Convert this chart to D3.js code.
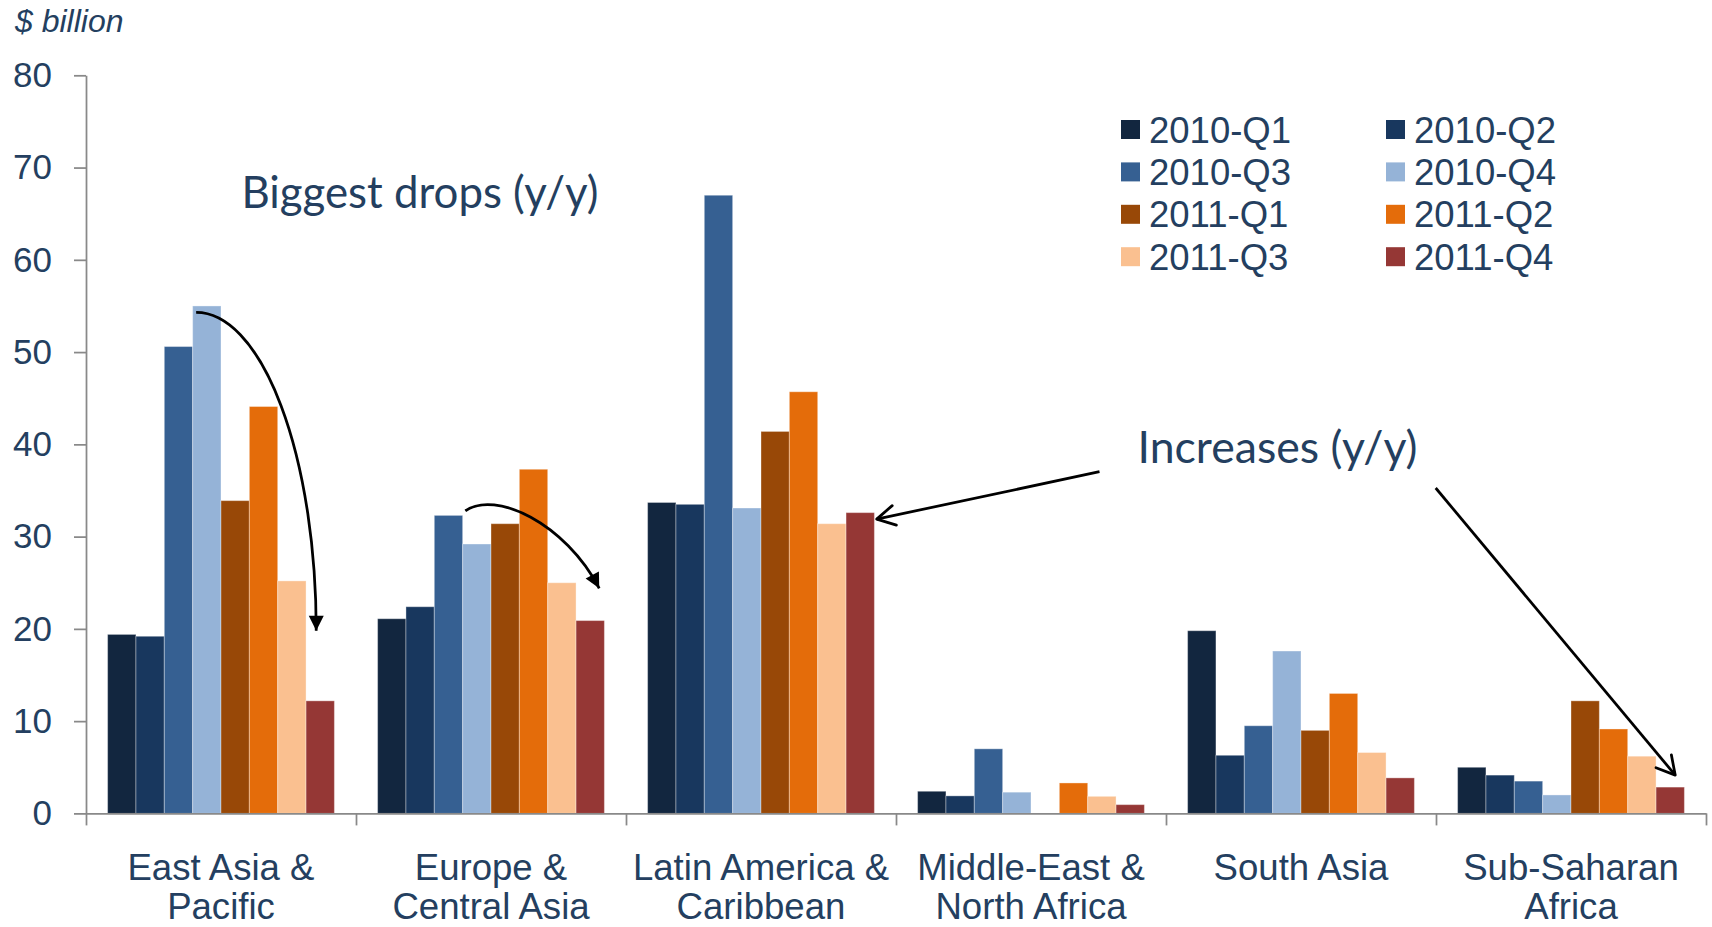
<!DOCTYPE html>
<html>
<head>
<meta charset="utf-8">
<script src="https://cdn.jsdelivr.net/npm/d3@7"></script>
<style>
  html, body { margin: 0; padding: 0; background: #ffffff; }
  svg { display: block; }
</style>
</head>
<body>
<svg id="chart" width="1712" height="927"></svg>
<script>
// ---------------- DATA ----------------
const regions = ["East Asia & Pacific", "Europe & Central Asia", "Latin America & Caribbean",
                 "Middle-East & North Africa", "South Asia", "Sub-Saharan Africa"];
const regionLabelLines = [["East Asia &", "Pacific"], ["Europe &", "Central Asia"],
                          ["Latin America &", "Caribbean"], ["Middle-East &", "North Africa"],
                          ["South Asia"], ["Sub-Saharan", "Africa"]];
const seriesNames = ["2010-Q1", "2010-Q2", "2010-Q3", "2010-Q4", "2011-Q1", "2011-Q2", "2011-Q3", "2011-Q4"];
const seriesColors = ["#12263F", "#18375E", "#366092", "#95B3D7", "#984807", "#E46C0A", "#FAC090", "#953735"];

// values per series, in region order
const s2010Q1 = [19.4, 21.1, 33.7, 2.4, 19.8, 5.0];
const s2010Q2 = [19.2, 22.4, 33.5, 1.9, 6.3, 4.15];
const s2010Q3 = [50.6, 32.3, 67.0, 7.0, 9.5, 3.5];
const s2010Q4 = [55.0, 29.2, 33.1, 2.3, 17.6, 2.0];
const s2011Q1 = [33.9, 31.4, 41.4, 0, 9.0, 12.2];
const s2011Q2 = [44.1, 37.3, 45.7, 3.3, 13.0, 9.15];
const s2011Q3 = [25.2, 25.0, 31.4, 1.85, 6.6, 6.2];
const s2011Q4 = [12.2, 20.9, 32.6, 0.95, 3.85, 2.85];
const seriesValues = [s2010Q1, s2010Q2, s2010Q3, s2010Q4, s2011Q1, s2011Q2, s2011Q3, s2011Q4];

const yTicks = [0, 10, 20, 30, 40, 50, 60, 70, 80];
const yUnit = "$ billion";
const noteDrops = "Biggest drops (y/y)";
const noteIncreases = "Increases (y/y)";

// ---------------- LAYOUT ----------------
const textColor = "#243F60";
const axisColor = "#898989";
const sans = "'Liberation Sans', Arial, sans-serif";
const left = 86, right = 1706, yZero = 813.4, yTop = 75.3;

const svg = d3.select("#chart");
svg.append("rect").attr("width", 1712).attr("height", 927).attr("fill", "#fff");

const y = d3.scaleLinear().domain([0, 80]).range([yZero, yTop]);
const x0 = d3.scaleBand().domain(regions).range([left, right]).paddingInner(0.16).paddingOuter(0.08);
const x1 = d3.scaleBand().domain(seriesNames).range([0, x0.bandwidth()]);

// flatten table for bars
const table = [];
regions.forEach((r, i) => {
  seriesNames.forEach((s, j) => {
    table.push({ region: r, series: s, value: seriesValues[j][i], color: seriesColors[j] });
  });
});

svg.append("g").selectAll("rect")
  .data(table.filter(d => d.value > 0))
  .join("rect")
  .attr("x", d => x0(d.region) + x1(d.series))
  .attr("y", d => y(d.value))
  .attr("width", x1.bandwidth())
  .attr("height", d => y(0) - y(d.value))
  .attr("fill", d => d.color)
  .attr("stroke", "rgba(255,255,255,0.35)")
  .attr("stroke-width", 1);

// Y axis
const yAxis = svg.append("g").attr("transform", `translate(${left},0)`)
  .call(d3.axisLeft(y).tickValues(yTicks).tickSize(12).tickPadding(22).tickSizeOuter(0));
yAxis.select(".domain").attr("stroke", axisColor).attr("stroke-width", 1.75);
yAxis.selectAll(".tick line").attr("stroke", axisColor).attr("stroke-width", 1.75);
yAxis.selectAll(".tick text").attr("fill", textColor).style("font-family", sans).style("font-size", "35px");

// X axis (category boundary ticks)
const xb = d3.scaleLinear().domain([0, regions.length]).range([left, right]);
const xAxis = svg.append("g").attr("transform", `translate(0,${yZero})`)
  .call(d3.axisBottom(xb).tickValues(d3.range(0, regions.length + 1)).tickFormat("").tickSize(12).tickSizeOuter(0));
xAxis.select(".domain").attr("stroke", axisColor).attr("stroke-width", 1.75);
xAxis.selectAll(".tick line").attr("stroke", axisColor).attr("stroke-width", 1.75);

// Category labels
regions.forEach((r, i) => {
  const cx = x0(r) + x0.bandwidth() / 2;
  regionLabelLines[i].forEach((line, k) => {
    svg.append("text").attr("x", cx).attr("y", 880 + k * 39)
      .attr("text-anchor", "middle").attr("fill", textColor)
      .style("font-family", sans).style("font-size", "36.6px").text(line);
  });
});

// Unit label
svg.append("text").attr("x", 15).attr("y", 32).attr("fill", textColor)
  .style("font-family", sans).style("font-size", "32px").style("font-style", "italic").text(yUnit);

// Legend
const legend = svg.append("g");
seriesNames.forEach((s, j) => {
  const col = j % 2, row = Math.floor(j / 2);
  const lx = col === 0 ? 1121 : 1386;
  const ly = 120 + row * 42.4;
  legend.append("rect").attr("x", lx).attr("y", ly).attr("width", 19).attr("height", 19).attr("fill", seriesColors[j]);
  legend.append("text").attr("x", lx + 28).attr("y", ly + 9.5).attr("dy", "0.36em")
    .attr("fill", textColor).style("font-family", sans).style("font-size", "36.5px").text(s);
});

// Annotation texts (fit to measured widths)
function note(txt, x, baseline, targetW) {
  const t = svg.append("text").attr("x", x).attr("y", baseline).attr("fill", textColor)
    .style("font-family", "Lato, 'Open Sans', sans-serif").style("font-size", "40px").text(txt);
  const w = t.node().getComputedTextLength();
  t.style("font-size", (40 * targetW / w).toFixed(2) + "px");
  return t;
}
note(noteDrops, 241.5, 207.5, 357);
note(noteIncreases, 1137.5, 462.5, 280);

// Arrow markers
const defs = svg.append("defs");
defs.append("marker").attr("id", "tri").attr("markerUnits", "userSpaceOnUse")
  .attr("viewBox", "0 -8 16 16").attr("markerWidth", 16).attr("markerHeight", 16)
  .attr("refX", 15).attr("refY", 0).attr("orient", "auto").style("overflow", "visible")
  .append("path").attr("d", "M0,-7.5L15,0L0,7.5Z").attr("fill", "#000");
defs.append("marker").attr("id", "open").attr("markerUnits", "userSpaceOnUse")
  .attr("viewBox", "-22 -12 24 24").attr("markerWidth", 24).attr("markerHeight", 24)
  .attr("refX", 0).attr("refY", 0).attr("orient", "auto").style("overflow", "visible")
  .append("path").attr("d", "M-18,-10L0,0L-18,10").attr("fill", "none")
  .attr("stroke", "#000").attr("stroke-width", 2.75).attr("stroke-linecap", "round").attr("stroke-linejoin", "round");

const barLeft = (ri, si) => x0(regions[ri]) + x1(seriesNames[si]);
const barW = x1.bandwidth();

// Arrow 1: East Asia, from 2010-Q4 peak down to 2011-Q4 (quarter ellipse)
{
  const sx = barLeft(0, 3) + 3.5, sy = y(s2010Q4[0]) + 6.5;
  const ex = barLeft(0, 7) + barW / 2 - 4, ey = y(19.8);
  svg.append("path")
    .attr("d", `M${sx},${sy} A${ex - sx},${ey - sy} 0 0 1 ${ex},${ey}`)
    .attr("fill", "none").attr("stroke", "#000").attr("stroke-width", 2.75)
    .attr("marker-end", "url(#tri)");
}
// Arrow 2: Europe & Central Asia
{
  const sx = barLeft(1, 3) + 2.7, sy = y(32.8);
  const ex = barLeft(1, 7) + barW / 2 + 9, ey = y(24.4);
  svg.append("path")
    .attr("d", `M${sx},${sy} C${sx + 30},${sy - 21} ${ex - 34},${ey - 65} ${ex},${ey}`)
    .attr("fill", "none").attr("stroke", "#000").attr("stroke-width", 2.75)
    .attr("marker-end", "url(#tri)");
}
// Arrow 3: Increases -> Latin America 2011-Q4
{
  const ex = barLeft(2, 7) + barW + 2.3, ey = y(s2011Q4[2]) + 6.5;
  svg.append("line").attr("x1", 1099.5).attr("y1", 471.7).attr("x2", ex).attr("y2", ey)
    .attr("stroke", "#000").attr("stroke-width", 2.75).attr("marker-end", "url(#open)");
}
// Arrow 4: Increases -> Sub-Saharan Africa 2011-Q4
{
  const ex = barLeft(5, 7) + barW / 2 + 5, ey = y(s2011Q4[5]) - 12;
  svg.append("line").attr("x1", 1435.7).attr("y1", 488).attr("x2", ex).attr("y2", ey)
    .attr("stroke", "#000").attr("stroke-width", 2.75).attr("marker-end", "url(#open)");
}
</script>
</body>
</html>
